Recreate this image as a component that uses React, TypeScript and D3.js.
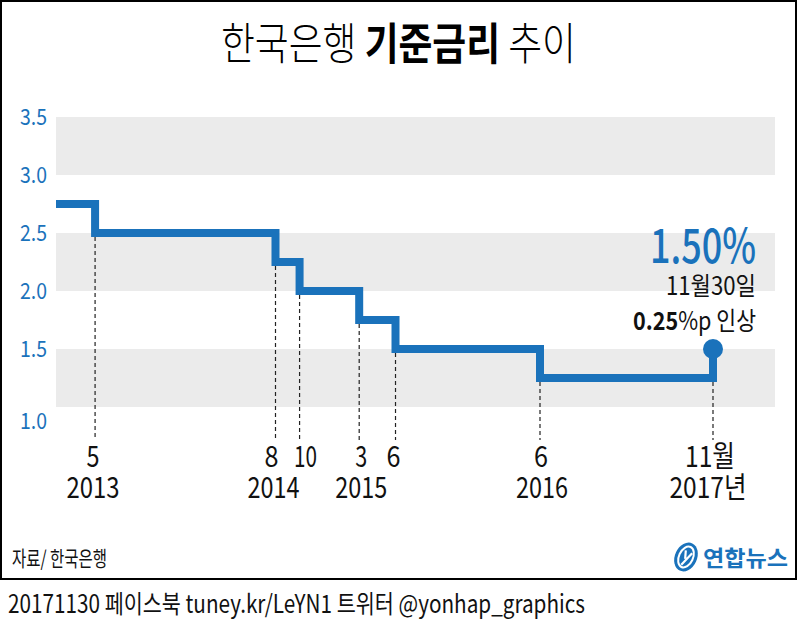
import React from "react";
import * as d3 from "d3";

const BLUE = "#1a72bb";
const GRAY = "#ebebeb";
const FONT = "'Noto Sans CJK KR', 'Noto Sans', sans-serif";

// Rate changes (date, new rate)
const changeDates: Date[] = [
  new Date(2013, 0, 22),
  new Date(2013, 4, 1),
  new Date(2014, 7, 1),
  new Date(2014, 9, 1),
  new Date(2015, 2, 1),
  new Date(2015, 5, 1),
  new Date(2016, 5, 1),
  new Date(2017, 10, 1),
];
const rates: number[] = [2.75, 2.5, 2.25, 2.0, 1.75, 1.5, 1.25, 1.5];

const monthLabels: string[] = ["", "5", "8", "10", "3", "6", "6", "11월"];
const monthLabelDx: number[] = [0, -2, -4, 6, 2, -2, 1, -3];
const yearLabels: string[] = ["", "2013", "2014", "", "2015", "", "2016", "2017년"];
const yearLabelDx: number[] = [0, -2, -2, 0, 2, 0, 2, -5];
const monthLabelWidths: number[] = [0, 13, 14, 23, 12, 14, 14, 50];
const yearLabelWidths: number[] = [0, 53, 52, 0, 52, 0, 52, 77];

const yTicks: number[] = [1.0, 1.5, 2.0, 2.5, 3.0, 3.5];
const yTickNudge: number[] = [14, 0, 0, 0, 0, 0];
const bands: [number, number][] = [
  [3.0, 3.5],
  [2.0, 2.5],
  [1.0, 1.5],
];

export default function App() {
  const x = d3
    .scaleTime()
    .domain([changeDates[0], changeDates[6], changeDates[7]])
    .range([56, 540, 713]);
  const y = d3.scaleLinear().domain([1.0, 3.5]).range([407, 117]);

  const pts: [number, number][] = changeDates.map((d, i) => [x(d), y(rates[i])]);
  const line = d3.line().curve(d3.curveStepAfter)(pts) || "";

  const last = pts[pts.length - 1];

  return (
    <div style={{ position: "absolute", left: 0, top: 0 }}>
      <svg width={799} height={623} style={{ display: "block" }}>
        <rect x={0} y={0} width={799} height={623} fill="#fff" />
        <rect x={1} y={1} width={795} height={578} fill="#fff" stroke="#000" strokeWidth={2} />

        {/* Title */}
        <text
          x={398.5}
          y={60}
          textAnchor="middle"
          fontFamily={FONT}
          fontSize={44}
          textLength={355}
          lengthAdjust="spacingAndGlyphs"
          fill="#000"
        >
          <tspan fontWeight={300}>한국은행 </tspan>
          <tspan fontWeight={700}>기준금리</tspan>
          <tspan fontWeight={300}> 추이</tspan>
        </text>

        {/* bands */}
        {bands.map((b, i) => (
          <rect key={i} x={56} y={y(b[1])} width={775 - 56} height={y(b[0]) - y(b[1])} fill={GRAY} />
        ))}

        {/* y tick labels */}
        {yTicks.map((t, i) => (
          <text
            key={t}
            x={47}
            y={y(t) + 8 + yTickNudge[i]}
            textAnchor="end"
            fontFamily={FONT}
            fontSize={22}
            fill={BLUE}
            textLength={27}
            lengthAdjust="spacingAndGlyphs"
          >
            {t.toFixed(1)}
          </text>
        ))}

        {/* dashed guides */}
        {pts.slice(1).map((p, k) => {
          const i = k + 1;
          const top = Math.max(y(rates[i]), y(rates[i - 1])) + 4;
          return (
            <line
              key={i}
              x1={p[0]}
              x2={p[0]}
              y1={top}
              y2={440}
              stroke="#222"
              strokeWidth={1.2}
              strokeDasharray="4,3"
            />
          );
        })}

        {/* step line */}
        <path d={line} fill="none" stroke={BLUE} strokeWidth={8} strokeLinejoin="miter" />
        <circle cx={last[0]} cy={last[1]} r={10} fill={BLUE} />

        {/* x labels */}
        {pts.map((p, i) =>
          monthLabels[i] ? (
            <text
              key={"m" + i}
              x={p[0] + monthLabelDx[i]}
              y={467}
              textAnchor="middle"
              fontFamily={FONT}
              fontSize={29}
              fill="#111"
              textLength={monthLabelWidths[i]}
              lengthAdjust="spacingAndGlyphs"
            >
              {monthLabels[i]}
            </text>
          ) : null
        )}
        {pts.map((p, i) =>
          yearLabels[i] ? (
            <text
              key={"y" + i}
              x={p[0] + yearLabelDx[i]}
              y={498}
              textAnchor="middle"
              fontFamily={FONT}
              fontSize={29}
              fill="#111"
              textLength={yearLabelWidths[i]}
              lengthAdjust="spacingAndGlyphs"
            >
              {yearLabels[i]}
            </text>
          ) : null
        )}

        {/* annotation */}
        <text
          x={756}
          y={263}
          textAnchor="end"
          fontFamily={FONT}
          fontSize={47}
          fontWeight={500}
          fill={BLUE}
          textLength={106}
          lengthAdjust="spacingAndGlyphs"
        >
          1.50%
        </text>
        <text
          x={756}
          y={295}
          textAnchor="end"
          fontFamily={FONT}
          fontSize={25}
          fill="#111"
          textLength={90}
          lengthAdjust="spacingAndGlyphs"
        >
          11월30일
        </text>
        <text
          x={756}
          y={330}
          textAnchor="end"
          fontFamily={FONT}
          fontSize={25}
          fill="#111"
          textLength={123}
          lengthAdjust="spacingAndGlyphs"
        >
          <tspan fontWeight={700}>0.25</tspan>
          <tspan>%p 인상</tspan>
        </text>

        {/* source */}
        <text
          x={12}
          y={566}
          fontFamily={FONT}
          fontSize={21}
          fill="#111"
          textLength={95}
          lengthAdjust="spacingAndGlyphs"
        >
          자료/ 한국은행
        </text>

        {/* logo */}
        <g transform="translate(686,557) rotate(25)">
          <ellipse cx={0} cy={0} rx={11} ry={15} fill={BLUE} />
          <ellipse cx={0} cy={0} rx={7} ry={11} fill="none" stroke="#fff" strokeWidth={2} />
          <path d="M-3,-6 L0,2 M4,-6 L-1,9" stroke="#fff" strokeWidth={2.2} fill="none" />
        </g>
        <text
          x={703}
          y={566}
          fontFamily={FONT}
          fontSize={22}
          fontWeight={700}
          fill={BLUE}
          textLength={85}
          lengthAdjust="spacingAndGlyphs"
        >
          연합뉴스
        </text>

        {/* footer */}
        <text
          x={8}
          y={613}
          fontFamily={FONT}
          fontSize={25}
          fill="#111"
          textLength={577}
          lengthAdjust="spacingAndGlyphs"
        >
          20171130 페이스북 tuney.kr/LeYN1 트위터 @yonhap_graphics
        </text>
      </svg>
    </div>
  );
}
